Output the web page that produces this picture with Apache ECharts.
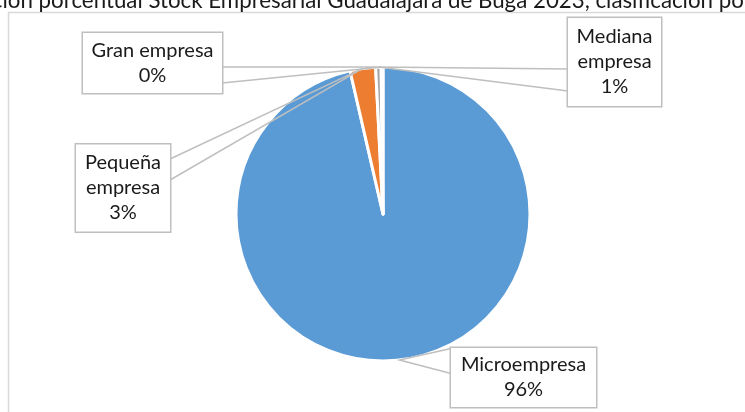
<!DOCTYPE html>
<html>
<head>
<meta charset="utf-8">
<script src="https://cdn.jsdelivr.net/npm/echarts@6/dist/echarts.min.js"></script>
<style>
html,body{margin:0;padding:0;background:#fff;}
#main{width:745px;height:412px;overflow:hidden;}
</style>
</head>
<body>
<div id="main"></div>
<script>
const titleText = 'Distribución porcentual Stock Empresarial Guadalajara de Buga 2023, clasificación por tamaño';
const categories = ['Microempresa', 'Pequeña empresa', 'Mediana empresa', 'Gran empresa'];
const labelNames = ['Microempresa', 'Pequeña\nempresa', 'Mediana\nempresa', 'Gran empresa'];
const values = [96.4, 2.8, 0.6, 0.2];
const colors = ['#5B9BD5', '#ED7D31', '#A5A5A5', '#FFC000'];

// label box layout: center, size, and where the callout pointer leaves the box
const labelBoxes = [
  {cx: 523.5, cy: 377.5, w: 145, h: 59, side: 'left',  p1: -29, p2: -4},
  {cx: 123,   cy: 188,   w: 94,  h: 87, side: 'right', p1: -29, p2: -8},
  {cx: 614.5, cy: 62,    w: 93,  h: 88, side: 'left',  p1: 7,   p2: 29},
  {cx: 152.5, cy: 63,    w: 139, h: 60, side: 'right', p1: 4,   p2: 20}
];

const chart = echarts.init(document.getElementById('main'), null, {renderer: 'canvas'});
const FONT = 'Lato';
const pieBase = {
  type: 'pie',
  center: [383, 214],
  radius: 147,
  startAngle: 90,
  clockwise: true,
  avoidLabelOverlap: false,
  silent: true
};
const option = {
  animation: false,
  title: {
    text: titleText,
    left: 'center',
    top: -15,
    textStyle: {fontFamily: FONT, fontSize: 22.3, fontWeight: 'normal', color: '#1a1a1a'}
  },
  graphic: [{
    type: 'rect',
    shape: {x: 8.5, y: 12.5, width: 800, height: 500},
    style: {fill: 'none', stroke: '#d9d9d9', lineWidth: 1.5},
    silent: true,
    z: -10
  }],
  series: [
    Object.assign({}, pieBase, {
      z: 2,
      data: categories.map((c, i) => ({name: c, value: values[i], itemStyle: {color: colors[i]}})),
      itemStyle: {borderColor: '#fff', borderWidth: 3},
      label: {show: false},
      labelLine: {show: false}
    }),
    Object.assign({}, pieBase, {
      z: 5,
      data: categories.map((c, i) => ({name: c, value: values[i]})),
      itemStyle: {color: 'rgba(0,0,0,0)', borderWidth: 0},
      label: {
        show: true,
        formatter: p => labelNames[p.dataIndex] + '\n' + Math.round(p.percent) + '%',
        fontFamily: FONT,
        fontSize: 20,
        color: '#1a1a1a',
        lineHeight: 25,
        align: 'center',
        backgroundColor: '#fff',
        borderColor: '#bfbfbf',
        borderWidth: 1.5,
        padding: [5, 0]
      },
      labelLine: {
        show: true,
        length: 5,
        length2: 5,
        lineStyle: {color: '#bfbfbf', width: 1.5}
      },
      labelLayout: function (params) {
        const b = labelBoxes[params.dataIndex];
        const res = {
          x: b.cx,
          y: b.cy,
          align: 'center',
          verticalAlign: 'middle',
          width: b.w,
          height: b.h - 10
        };
        const pts = params.labelLinePoints;
        if (pts && pts[0]) {
          const ex = b.side === 'left' ? b.cx - b.w / 2 : b.cx + b.w / 2;
          const anchor = pts[0];
          res.labelLinePoints = [[ex, b.cy + b.p1], [anchor[0], anchor[1]], [ex, b.cy + b.p2]];
        }
        return res;
      }
    })
  ]
};
chart.setOption(option);
</script>
</body>
</html>
